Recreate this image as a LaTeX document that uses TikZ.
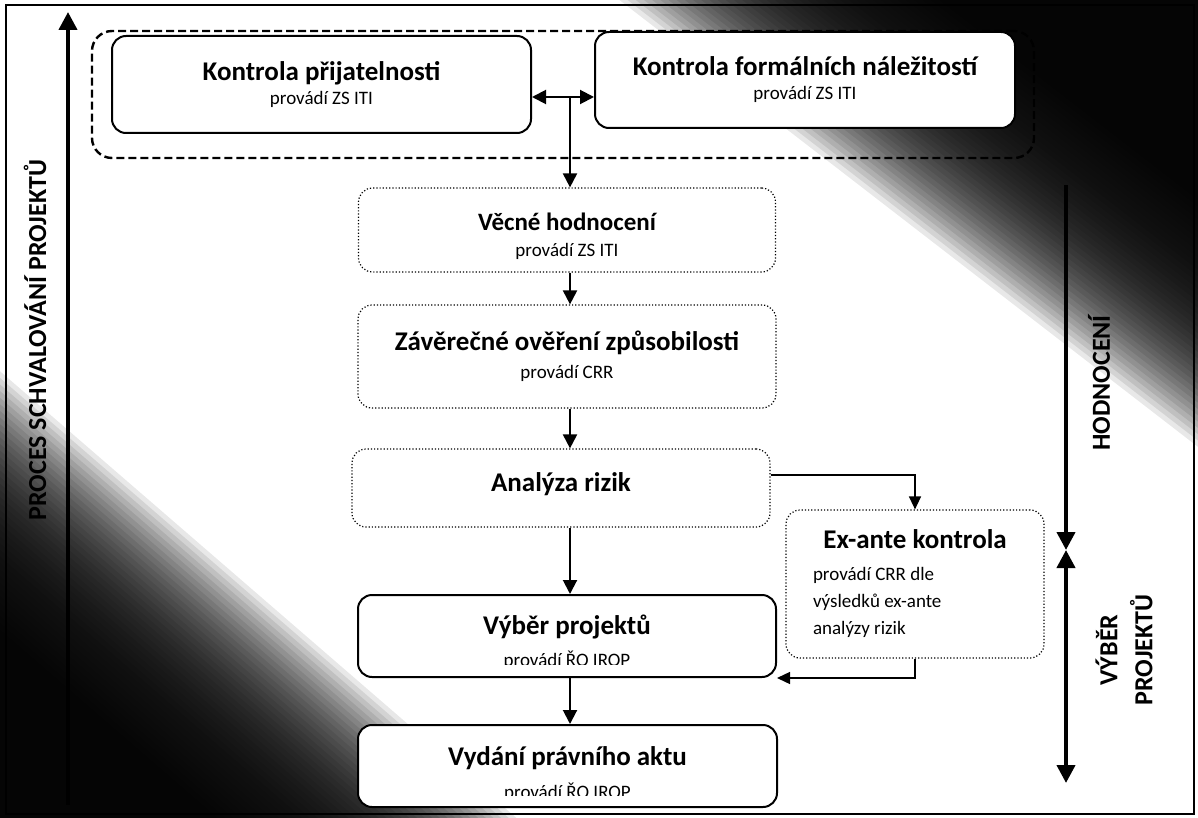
\documentclass[tikz,border=0pt]{standalone}
\usepackage{fontspec}
\setmainfont{Carlito}
\usetikzlibrary{arrows.meta,calc}

\newcommand{\boxtitle}{\bfseries\fontsize{13.5}{16}\selectfont}
\newcommand{\boxsub}{\fontsize{9.5}{12}\selectfont}
\newcommand{\axisfont}{\bfseries\fontsize{13}{17.5}\selectfont}

\tikzset{
  flowtip/.tip = {Triangle[length=7pt,width=7pt]},
  thintip/.tip = {Triangle[length=6.5pt,width=6pt]},
  sidetip/.tip = {Triangle[length=9pt,width=9pt]},
}

\begin{document}
\begin{tikzpicture}[x=0.5pt, y=-0.5pt,
    box/.style = {draw, fill=white, rounded corners=7pt, line width=1pt, align=center, inner sep=0pt, font=\boxsub},
    dotbox/.style = {box, line width=0.6pt, densely dotted},
    groupbox/.style = {draw, dash pattern=on 4pt off 2pt, line width=1.2pt, rounded corners=10pt},
    flow/.style = {line width=1pt, -flowtip},
    thinflow/.style = {line width=0.7pt, -thintip},
    side/.style = {line width=2pt},
    axistext/.style = {rotate=90, font=\axisfont},
  ]

  \useasboundingbox (0,0) rectangle (1198,818);

  % dark corners of the scan
  \begin{scope}
    \clip (0,0) rectangle (1198,818);
    \foreach \s in {0,5,...,220} {
      \fill[black, opacity=0.09] ($(657,29)+\s*(0.611,-0.791)+(-1582,-1222)$) -- ++(3164,2444) -- ++(1222,-1582) -- ++(-3164,-2444) -- cycle;
      \fill[black, opacity=0.09] ($(24,392)+\s*(-0.654,0.756)+(-1512,-1308)$) -- ++(3024,2616) -- ++(-1308,1512) -- ++(-3024,-2616) -- cycle;
    }
  \end{scope}
  \draw[line width=0.6pt] (6,5) rectangle (1194,814);

  % first check
  \node[groupbox, minimum width=471pt, minimum height=63.5pt] (group) at (563,94.5) {};
  \node[box, minimum width=209.5pt, minimum height=48.5pt] (prij) at (321.5,84.5) {{\boxtitle Kontrola přijatelnosti}\\provádí ZS ITI};
  \node[box, minimum width=210pt, minimum height=48pt] (form) at (805,80) {{\boxtitle Kontrola formálních náležitostí}\\provádí ZS ITI};

  % main column
  \node[dotbox, minimum width=208.5pt, minimum height=42pt] (vecne) at (567,230) {{\boxtitle\fontsize{12.5}{14}\selectfont\rule{0pt}{15pt}Věcné hodnocení}\\[1pt]provádí ZS ITI};
  \node[dotbox, minimum width=209pt, minimum height=51.5pt] (zaver) at (567,356.5) {{\boxtitle Závěrečné ověření způsobilosti}\\[2pt]provádí CRR};
  \node[dotbox, minimum width=209pt, minimum height=39pt, text depth=6pt] (analyza) at (561,488) {{\boxtitle Analýza rizik}};
  \node[dotbox, minimum width=129pt, minimum height=74pt, text width=102pt, align=flush left, font=\fontsize{9.5}{13.5}\selectfont] (exante) at (915,584) {\makebox[102pt][c]{\boxtitle Ex-ante kontrola}\\[2.5pt]provádí CRR dle\\výsledků ex-ante\\analýzy rizik};
  \node[box, minimum width=209pt, minimum height=41pt] (vyber) at (567,636) {{\boxtitle\rule{0pt}{16pt}Výběr projektů}\\[4pt]provádí ŘO IROP};
  \node[box, minimum width=209.5pt, minimum height=41pt] (vydani) at (567.5,766) {{\boxtitle\rule{0pt}{18pt}Vydání právního aktu}\\[4.5pt]provádí ŘO IROP};
  \fill[white] ([xshift=10pt,yshift=1pt]vyber.south west) rectangle ([xshift=-10pt,yshift=6.5pt]vyber.south east);
  \fill[white] ([xshift=10pt,yshift=1pt]vydani.south west) rectangle ([xshift=-10pt,yshift=6pt]vydani.south east);

  % connectors
  \coordinate (split) at (570,97);
  \draw[line width=1pt, flowtip-flowtip] (prij.east |- split) -- (form.west |- split);
  \draw[flow] (split) -- (split |- vecne.north);
  \draw[flow] (vecne.south -| split) -- (zaver.north -| split);
  \draw[flow] (zaver.south -| split) -- (analyza.north -| split);
  \draw[flow] (analyza.south -| split) -- (vyber.north -| split);
  \draw[flow] (vyber.south -| split) -- (vydani.north -| split);
  \draw[thinflow] ([yshift=6.5pt]analyza.east) -| (exante.north);
  \draw[thinflow] (exante.south) |- (vyber.south east);

  % side axes
  \coordinate (ltop) at (68,12);
  \coordinate (lbot) at (68,805);
  \coordinate (htop) at (1066,185);
  \coordinate (hmid) at (1066,550);
  \coordinate (hbot) at (1066,783);
  \draw[side, -sidetip] (lbot) -- (ltop);
  \draw[side, -sidetip] (htop) -- (hmid);
  \draw[side, sidetip-sidetip] (hmid) -- (hbot);
  \node[axistext] (proces) at (35,340) {PROCES SCHVALOVÁNÍ PROJEKTŮ};
  \node[axistext] (hodnoceni) at (1099,383) {HODNOCENÍ};
  \node[axistext, align=center] (vyberaxis) at (1124,650) {VÝBĚR\\PROJEKTŮ};

\end{tikzpicture}
\end{document}
